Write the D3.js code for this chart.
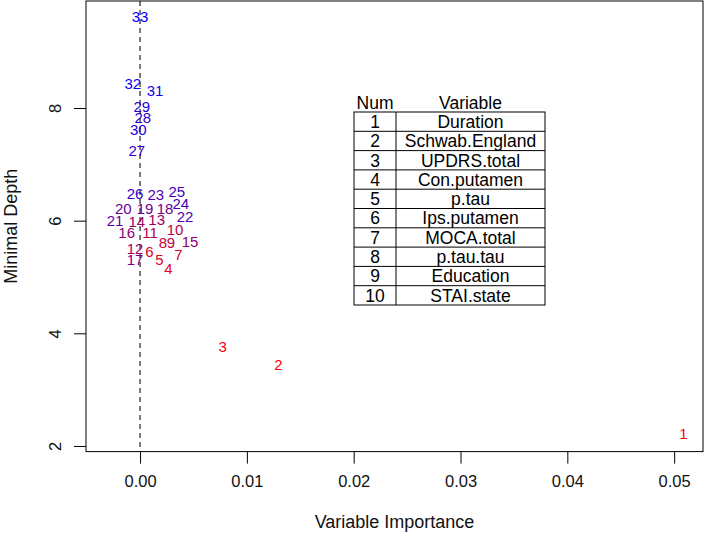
<!DOCTYPE html>
<html>
<head>
<meta charset="utf-8">
<script src="https://cdn.jsdelivr.net/npm/d3@7"></script>
<style>
  html, body { margin: 0; padding: 0; background: #fff; }
  svg { display: block; font-family: "Liberation Sans", Arial, Helvetica, sans-serif; }
</style>
</head>
<body>
<svg id="chart" width="709" height="539"></svg>
<script>
// ---- data ----
const pointLabels = [1,2,3,4,5,6,7,8,9,10,11,12,13,14,15,16,17,18,19,20,21,22,23,24,25,26,27,28,29,30,31,32,33];
const importance = [0.05087,0.01295,0.00774,0.00265,0.00181,0.00087,0.00359,0.00213,0.00290,0.00328,
                    0.00094,-0.00047,0.00156,-0.00031,0.00468,-0.00125,-0.00047,0.00234,0.00047,-0.00156,
                    -0.00234,0.00421,0.00147,0.00381,0.00344,-0.00047,-0.00031,0.00025,0.00016,-0.00016,
                    0.00140,-0.00068,0.00000];
const minDepth = [2.225,3.438,3.763,5.155,5.314,5.449,5.391,5.609,5.609,5.835,
                  5.787,5.510,6.012,5.982,5.627,5.787,5.314,6.220,6.220,6.220,
                  6.000,6.071,6.456,6.309,6.515,6.486,7.237,7.835,8.024,7.610,
                  8.308,8.439,9.621];
const xTicks = [0.00,0.01,0.02,0.03,0.04,0.05];
const yTicks = [2,4,6,8];
const tableNum = [1,2,3,4,5,6,7,8,9,10];
const tableVar = ["Duration","Schwab.England","UPDRS.total","Con.putamen","p.tau","Ips.putamen","MOCA.total","p.tau.tau","Education","STAI.state"];
const xTitle = "Variable Importance";
const yTitle = "Minimal Depth";

// ---- layout ----
const svg = d3.select("#chart");
const plotL = 86, plotR = 703, plotT = 1, plotB = 451.6;
const x = d3.scaleLinear().domain([-0.00506, 0.0527]).range([plotL, plotR]);
const y = d3.scaleLinear().domain([1.9, 9.9]).range([plotB, plotT]);
const color = d3.scaleLinear().domain([1, 33]).range(["#ff0000", "#0000ff"]).interpolate(d3.interpolateRgb);

// dashed line at 0
svg.append("line")
  .attr("x1", x(0)).attr("x2", x(0)).attr("y1", plotT).attr("y2", plotB)
  .attr("stroke", "#222").attr("stroke-width", 1.2).attr("stroke-dasharray", "5,4");

// plot box
svg.append("rect")
  .attr("x", plotL).attr("y", plotT).attr("width", plotR - plotL).attr("height", plotB - plotT)
  .attr("fill", "none").attr("stroke", "#000").attr("stroke-width", 1);

// x axis
const xAxis = d3.axisBottom(x).tickValues(xTicks).tickFormat(d3.format(".2f")).tickSize(12).tickSizeOuter(0);
const gx = svg.append("g").attr("transform", `translate(0,${plotB})`).call(xAxis);
gx.select(".domain").attr("stroke", "none");
gx.selectAll(".tick line").attr("stroke", "#000");
gx.selectAll(".tick text").attr("font-size", 16.5).attr("fill", "#111").attr("y", 30).attr("dy", "0.35em").attr("font-family", "Liberation Sans, Arial, sans-serif");

// y axis
const yAxis = d3.axisLeft(y).tickValues(yTicks).tickFormat(d3.format("d")).tickSize(12).tickSizeOuter(0);
const gy = svg.append("g").attr("transform", `translate(${plotL},0)`).call(yAxis);
gy.select(".domain").attr("stroke", "none");
gy.selectAll(".tick line").attr("stroke", "#000");
gy.selectAll(".tick text")
  .attr("font-size", 16.5).attr("fill", "#111").attr("font-family", "Liberation Sans, Arial, sans-serif")
  .attr("x", null)
  .attr("text-anchor", "middle")
  .attr("transform", "translate(-31,0) rotate(-90)")
  .attr("dy", "0.35em");

// axis titles
svg.append("text").attr("x", (plotL + plotR) / 2).attr("y", 522).attr("dy", "0.35em")
  .attr("text-anchor", "middle").attr("font-size", 18).attr("fill", "#111").text(xTitle);
svg.append("text").attr("transform", `translate(11,${(plotT + plotB) / 2}) rotate(-90)`).attr("dy", "0.35em")
  .attr("text-anchor", "middle").attr("font-size", 18).attr("fill", "#111").text(yTitle);

// points (text labels)
svg.append("g").selectAll("text").data(pointLabels).join("text")
  .attr("x", (d, i) => x(importance[i]))
  .attr("y", (d, i) => y(minDepth[i]))
  .attr("dy", "0.35em")
  .attr("text-anchor", "middle")
  .attr("font-size", 15)
  .attr("fill", d => color(d))
  .text(d => d);

// table
const tL = 354, tM = 396, tR = 545, tTop = 112, rowH = 19.3;
const tg = svg.append("g");
tg.append("text").attr("x", (tL + tM) / 2).attr("y", tTop - 9).attr("dy", "0.35em")
  .attr("text-anchor", "middle").attr("font-size", 17.5).attr("fill", "#000").text("Num");
tg.append("text").attr("x", (tM + tR) / 2).attr("y", tTop - 9).attr("dy", "0.35em")
  .attr("text-anchor", "middle").attr("font-size", 17.5).attr("fill", "#000").text("Variable");
tg.append("rect").attr("x", tL).attr("y", tTop).attr("width", tR - tL).attr("height", rowH * tableNum.length)
  .attr("fill", "none").attr("stroke", "#000").attr("stroke-width", 1);
tg.append("line").attr("x1", tM).attr("x2", tM).attr("y1", tTop).attr("y2", tTop + rowH * tableNum.length)
  .attr("stroke", "#000").attr("stroke-width", 1);
tableNum.forEach((n, i) => {
  if (i > 0) tg.append("line").attr("x1", tL).attr("x2", tR).attr("y1", tTop + rowH * i).attr("y2", tTop + rowH * i)
    .attr("stroke", "#000").attr("stroke-width", 1);
  tg.append("text").attr("x", (tL + tM) / 2).attr("y", tTop + rowH * (i + 0.5)).attr("dy", "0.36em")
    .attr("text-anchor", "middle").attr("font-size", 17.5).attr("fill", "#000").text(n);
  tg.append("text").attr("x", (tM + tR) / 2).attr("y", tTop + rowH * (i + 0.5)).attr("dy", "0.36em")
    .attr("text-anchor", "middle").attr("font-size", 17.5).attr("fill", "#000").text(tableVar[i]);
});
</script>
</body>
</html>
